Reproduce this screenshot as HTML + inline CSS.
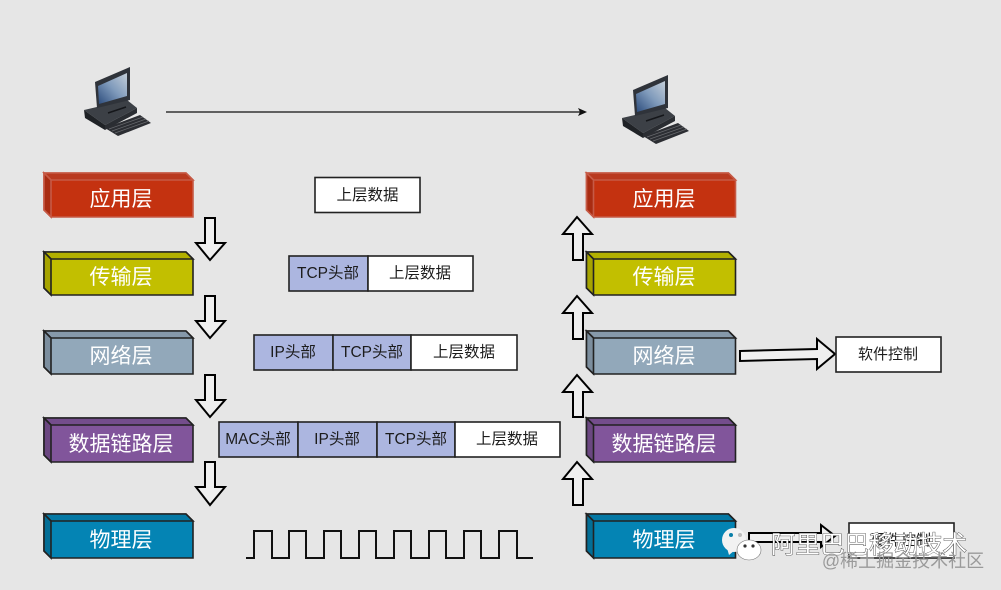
<!DOCTYPE html>
<html><head><meta charset="utf-8"><style>
html,body{margin:0;padding:0;background:#e6e6e6;width:1001px;height:590px;overflow:hidden}
svg{display:block}
text{font-family:"Liberation Sans","Noto Sans CJK SC",sans-serif;text-anchor:middle}
.l{font-size:21px;fill:#fff}
.p{font-size:15.5px;fill:#1c1c1c}
.b{stroke:#222;stroke-width:1.6}
.a{fill:#efefef;stroke:#000;stroke-width:2;stroke-linejoin:miter}
</style></head><body>
<svg width="1001" height="590" viewBox="0 0 1001 590" xmlns="http://www.w3.org/2000/svg">
<defs>
<linearGradient id="scr" x1="0" y1="1" x2="1" y2="0"><stop offset="0" stop-color="#2c4c7c"/><stop offset=".5" stop-color="#7f9abb"/><stop offset="1" stop-color="#c4ced9"/></linearGradient>
<g id="pc">
<polygon points="113,103 122,100 122,111 113,115" fill="#3a3e45"/>
<polygon points="84,110 127,100 137,108 105,125" fill="#3c4046"/>
<polygon points="84,110 105,125 105,130 85,118" fill="#1f2226"/>
<polygon points="105,125 137,108 137,113 105,130" fill="#2a2d32"/>
<line x1="108" y1="113" x2="126" y2="107" stroke="#15171a" stroke-width="1.500"/>
<polygon points="95,82 130,67 130,100 97,108" fill="#2f333a"/>
<polygon points="98,86 127,73 127,96 99,104" fill="url(#scr)"/>
<polygon points="105,128 140,115 151,123 118,136" fill="#2c2e33"/>
<g stroke="#686a6e" stroke-width=".7">
<line x1="109" y1="129" x2="143" y2="117"/>
<line x1="112" y1="131" x2="146" y2="119"/>
<line x1="115" y1="133" x2="149" y2="121"/>
</g>
</g>
</defs>
<rect width="1001" height="590" fill="#e6e6e6"/>

<use href="#pc"/>
<use href="#pc" x="538" y="8"/>

<line x1="166" y1="112" x2="580" y2="112" stroke="#111" stroke-width="1.3"/>
<polygon points="587,112 578,108 580,112 578,116" fill="#111"/>

<!-- left layers -->
<g class="b">
<polygon points="44,173 186,173 193,180 193,217 51,217 44,210" fill="#c43210" stroke="#c65a46"/>
<polygon points="44,173 186,173 193,180 51,180" fill="#b93a20" stroke="#c65a46"/>
<polygon points="44,173 51,180 51,217 44,210" fill="#a92c12" stroke="#c65a46"/>

<polygon points="44,252 186,252 193,259 193,295 51,295 44,288" fill="#c2bf00"/>
<polygon points="44,252 186,252 193,259 51,259" fill="#b2b000"/>
<polygon points="44,252 51,259 51,295 44,288" fill="#a6a400"/>

<polygon points="44,331 186,331 193,338 193,374 51,374 44,367" fill="#92a8ba"/>
<polygon points="44,331 186,331 193,338 51,338" fill="#8699aa"/>
<polygon points="44,331 51,338 51,374 44,367" fill="#7c8e9e"/>

<polygon points="44,418 186,418 193,425 193,462 51,462 44,455" fill="#81559b"/>
<polygon points="44,418 186,418 193,425 51,425" fill="#744d8c"/>
<polygon points="44,418 51,425 51,462 44,455" fill="#6b4781"/>

<polygon points="44,514 186,514 193,521 193,558 51,558 44,551" fill="#0484b4"/>
<polygon points="44,514 186,514 193,521 51,521" fill="#0478a4"/>
<polygon points="44,514 51,521 51,558 44,551" fill="#036e96"/>
</g>
<text x="121" y="206" class="l">应用层</text>
<text x="121" y="284" class="l">传输层</text>
<text x="121" y="363" class="l">网络层</text>
<text x="121" y="451" class="l">数据链路层</text>
<text x="121" y="547" class="l">物理层</text>

<!-- right layers -->
<g class="b" transform="translate(542.5,0)">
<polygon points="44,173 186,173 193,180 193,217 51,217 44,210" fill="#c43210" stroke="#c65a46"/>
<polygon points="44,173 186,173 193,180 51,180" fill="#b93a20" stroke="#c65a46"/>
<polygon points="44,173 51,180 51,217 44,210" fill="#a92c12" stroke="#c65a46"/>

<polygon points="44,252 186,252 193,259 193,295 51,295 44,288" fill="#c2bf00"/>
<polygon points="44,252 186,252 193,259 51,259" fill="#b2b000"/>
<polygon points="44,252 51,259 51,295 44,288" fill="#a6a400"/>

<polygon points="44,331 186,331 193,338 193,374 51,374 44,367" fill="#92a8ba"/>
<polygon points="44,331 186,331 193,338 51,338" fill="#8699aa"/>
<polygon points="44,331 51,338 51,374 44,367" fill="#7c8e9e"/>

<polygon points="44,418 186,418 193,425 193,462 51,462 44,455" fill="#81559b"/>
<polygon points="44,418 186,418 193,425 51,425" fill="#744d8c"/>
<polygon points="44,418 51,425 51,462 44,455" fill="#6b4781"/>

<polygon points="44,514 186,514 193,521 193,558 51,558 44,551" fill="#0484b4"/>
<polygon points="44,514 186,514 193,521 51,521" fill="#0478a4"/>
<polygon points="44,514 51,521 51,558 44,551" fill="#036e96"/>
</g>
<text x="664" y="206" class="l">应用层</text>
<text x="664" y="284" class="l">传输层</text>
<text x="664" y="363" class="l">网络层</text>
<text x="664" y="451" class="l">数据链路层</text>
<text x="664" y="547" class="l">物理层</text>

<!-- down arrows -->
<polygon class="a" points="205,218 215,218 215,243 225,243 210,260 196,243 205,243"/>
<polygon class="a" points="205,296 215,296 215,321 225,321 210,338 196,321 205,321"/>
<polygon class="a" points="205,375 215,375 215,400 225,400 210,417 196,400 205,400"/>
<polygon class="a" points="205,462 215,462 215,487 225,487 210,505 196,487 205,487"/>

<!-- up arrows -->
<polygon class="a" points="577,217 592,234 583,234 583,260 573,260 573,234 563,234"/>
<polygon class="a" points="577,296 592,313 583,313 583,339 573,339 573,313 563,313"/>
<polygon class="a" points="577,375 592,392 583,392 583,417 573,417 573,392 563,392"/>
<polygon class="a" points="577,462 592,479 583,479 583,505 573,505 573,479 563,479"/>

<!-- right arrows -->
<polygon class="a" points="740,351 817,349 817,339 835,354 817,369 817,359 740,361"/>
<polygon class="a" points="749,533 821,533 821,525 835,536 821,547 821,542 749,542"/>

<!-- boxes -->
<g class="b" fill="#fff">
<rect x="315" y="177.500" width="105" height="35"/>
<rect x="289" y="256" width="79" height="35" fill="#acb6e0"/>
<rect x="368" y="256" width="105" height="35"/>
<rect x="254" y="335" width="79" height="35" fill="#acb6e0"/>
<rect x="333" y="335" width="78" height="35" fill="#acb6e0"/>
<rect x="411" y="335" width="106" height="35"/>
<rect x="219" y="422" width="79" height="35" fill="#acb6e0"/>
<rect x="298" y="422" width="79" height="35" fill="#acb6e0"/>
<rect x="377" y="422" width="78" height="35" fill="#acb6e0"/>
<rect x="455" y="422" width="105" height="35"/>
<rect x="836" y="337" width="105" height="35"/>
<rect x="849" y="523" width="105" height="35"/>
</g>
<text class="p" x="367.500" y="200">上层数据</text>
<text class="p" x="328" y="278">TCP头部</text>
<text class="p" x="420" y="278">上层数据</text>
<text class="p" x="293" y="357">IP头部</text>
<text class="p" x="372" y="357">TCP头部</text>
<text class="p" x="464" y="357">上层数据</text>
<text class="p" x="258" y="444">MAC头部</text>
<text class="p" x="337" y="444">IP头部</text>
<text class="p" x="416" y="444">TCP头部</text>
<text class="p" x="507" y="444">上层数据</text>
<text class="p" x="888" y="359" style="font-size:15px">软件控制</text>
<text class="p" x="901" y="545" style="font-size:15px">硬件控制</text>

<!-- square wave -->
<polyline fill="none" stroke="#111" stroke-width="2" points="246,558 254,558 254,531 272,531 272,558 289,558 289,531 306,531 306,558 324,558 324,531 341,531 341,558 359,558 359,531 376,531 376,558 394,558 394,531 411,531 411,558 429,558 429,531 446,531 446,558 464,558 464,531 481,531 481,558 499,558 499,531 517,531 517,558 533,558"/>

<!-- watermark -->
<ellipse cx="734" cy="540" rx="12" ry="12" fill="#f2f2f2"/>
<polygon points="727,548 729,555 735,550" fill="#f2f2f2"/>
<ellipse cx="749" cy="550" rx="12" ry="10" fill="#fff" stroke="#777" stroke-width=".6"/>
<circle cx="731" cy="535" r="2" fill="#0a7fa8"/><circle cx="740" cy="535" r="2" fill="#bbb"/>
<circle cx="745" cy="546" r="1.600" fill="#333"/><circle cx="753" cy="546" r="1.600" fill="#333"/>
<text x="869" y="553" style="font-size:24.500px;fill:#fff;stroke:#333;stroke-width:.8;paint-order:stroke">阿里巴巴移动技术</text>
<text x="903" y="567" style="font-size:18px;fill:#9a9a9a">@稀土掘金技术社区</text>
</svg>
</body></html>
